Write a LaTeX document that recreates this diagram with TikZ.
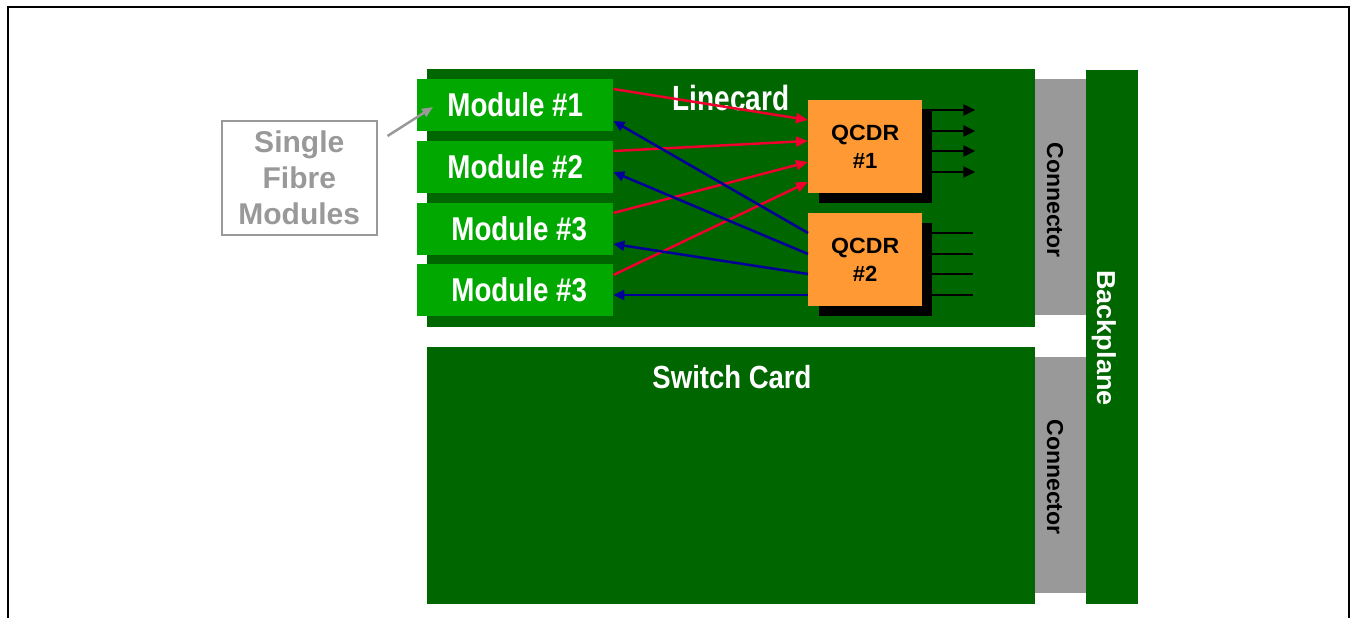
\documentclass[tikz,border=0pt]{standalone}
\usepackage{fontspec}
\setmainfont{Liberation Sans}
\usetikzlibrary{arrows.meta,calc}
\definecolor{dkgreen}{HTML}{006600}
\definecolor{modgreen}{HTML}{00A800}
\definecolor{qorange}{HTML}{FF9933}
\definecolor{cgray}{HTML}{999999}
\definecolor{ared}{HTML}{F0002E}
\definecolor{ablue}{HTML}{000099}
\newcommand{\hsc}[2]{\scalebox{#1}[1]{#2}}
\begin{document}
\begin{tikzpicture}[x=1pt,y=-1pt,
  card/.style={fill=dkgreen, draw=none, inner sep=0pt, anchor=north west},
  conn/.style={fill=cgray, draw=none, inner sep=0pt, anchor=north west, minimum width=52pt, minimum height=236pt},
  module/.style={fill=modgreen, draw=none, inner sep=0pt, anchor=north west, minimum width=196pt, minimum height=52pt, text=white, font=\fontsize{33}{40}\selectfont\bfseries},
  qcdr/.style={fill=qorange, draw=none, inner sep=0pt, anchor=north west, minimum width=114pt, minimum height=93pt, align=center, font=\fontsize{22}{28}\selectfont\bfseries},
  qshadow/.style={fill=black, draw=none, inner sep=0pt, anchor=north west, minimum width=113pt, minimum height=93pt},
  title/.style={text=white, font=\fontsize{35}{40}\selectfont\bfseries, inner sep=0pt},
  vlabel/.style={rotate=-90, inner sep=0pt, font=\fontsize{23}{28}\selectfont\bfseries},
  redarrow/.style={draw=ared, line width=2.5pt, -{Triangle[length=12pt,width=10pt]}},
  bluearrow/.style={draw=ablue, line width=2.5pt, -{Triangle[length=11pt,width=10pt]}},
  blkarrow/.style={draw=black, line width=2.5pt, -{Triangle[length=12pt,width=11pt]}},
  blkline/.style={draw=black, line width=2.5pt},
  grayarrow/.style={draw=cgray, line width=2.5pt, -{Triangle[length=11pt,width=9pt]}}
]
\useasboundingbox (0,0) rectangle (1354,618);
\fill[white] (0,0) rectangle (1354,618);
\draw[line width=2pt] (8,620) -- (8,7) -- (1349,7) -- (1349,620);

% cards and backplane
\node[card, minimum width=608pt, minimum height=258pt] (lc) at (427,69) {};
\node[card, minimum width=608pt, minimum height=257pt] (sc) at (427,347) {};
\node[conn] (c1) at (1035,79) {};
\node[conn] (c2) at (1035,357) {};
\node[card, minimum width=52pt, minimum height=534pt] (bp) at (1086,70) {};

\node[title] (lct) at (731,98) {\hsc{0.80}{Linecard}};
\node[title, font=\fontsize{32}{40}\selectfont\bfseries] (sct) at (732,377) {\hsc{0.86}{Switch Card}};
\node[vlabel] (c1t) at (1055,200) {Connector};
\node[vlabel] (c2t) at (1055,477) {Connector};
\node[vlabel, text=white, font=\fontsize{26}{30}\selectfont\bfseries] (bpt) at (1104,338) {\hsc{1.04}{Backplane}};

% modules
\node[module] (m1) at (417,79) {\raisebox{-2pt}{\hsc{0.84}{Module \#1}}};
\node[module] (m2) at (417,141) {\raisebox{-2pt}{\hsc{0.84}{Module \#2}}};
\node[module] (m3) at (417,203) {\hspace{8pt}\raisebox{-2pt}{\hsc{0.84}{Module \#3}}};
\node[module] (m4) at (417,264) {\hspace{8pt}\raisebox{-2pt}{\hsc{0.84}{Module \#3}}};

% QCDRs with shadows
\node[qshadow] (q1s) at (819,110) {};
\node[qshadow] (q2s) at (819,223) {};
\node[qcdr] (q1) at (808,100) {\hsc{1.05}{QCDR}\\\#1};
\node[qcdr] (q2) at (808,213) {\hsc{1.05}{QCDR}\\\#2};

% outputs
\foreach \d in {10,31,51,72}
  \draw[blkarrow] ($(q1.north east)+(0,\d)$) -- ++(53,0);
\foreach \d in {20,41,61,82}
  \draw[blkline] ($(q2.north east)+(0,\d)$) -- ++(51,0);

% red: modules to QCDR #1
\draw[redarrow] ($(m1.north east)+(0,10)$) -- ($(q1.north west)+(0,20)$);
\draw[redarrow] ($(m2.north east)+(0,10)$) -- ($(q1.north west)+(0,41)$);
\draw[redarrow] ($(m3.north east)+(0,10)$) -- ($(q1.north west)+(0,62)$);
\draw[redarrow] ($(m4.north east)+(0,11)$) -- ($(q1.north west)+(0,82)$);

% blue: QCDR #2 to modules
\draw[bluearrow] ($(q2.north west)+(0,20)$) -- ($(m1.north east)+(0,42)$);
\draw[bluearrow] ($(q2.north west)+(0,41)$) -- ($(m2.north east)+(0,31)$);
\draw[bluearrow] ($(q2.north west)+(0,61)$) -- ($(m3.north east)+(0,41)$);
\draw[bluearrow] ($(q2.north west)+(0,82)$) -- ($(m4.north east)+(0,31)$);

% single fibre modules callout
\node[draw=cgray, line width=1.5pt, anchor=north west, minimum width=155pt, minimum height=114pt, inner sep=0pt, align=center, text=cgray, font=\fontsize{30}{36}\selectfont\bfseries] (sf) at (221,120) {Single\\Fibre\\Modules};
\draw[grayarrow] ($(sf.north east)+(10,16)$) -- ($(m1.north west)+(16,28)$);
\end{tikzpicture}
\end{document}
